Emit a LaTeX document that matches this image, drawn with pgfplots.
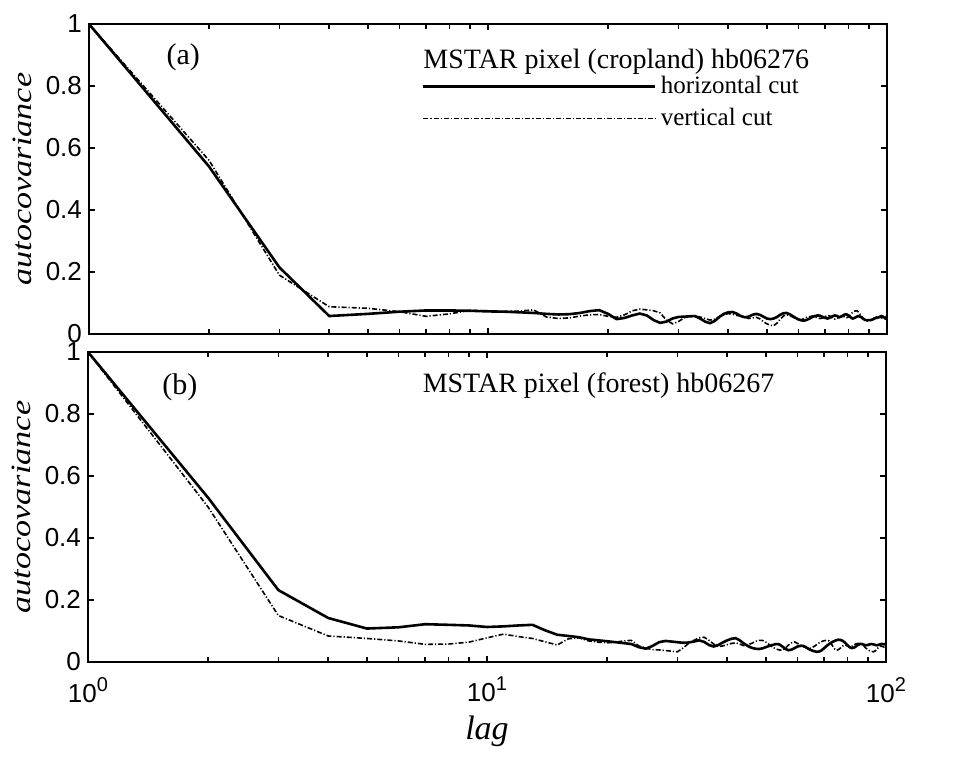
\documentclass[border=0pt]{standalone}
\usepackage{fontspec}
\setmainfont{Liberation Serif}
\setsansfont{Liberation Sans}
\newfontfamily\ylabfont[FakeStretch=1.22]{Liberation Serif}
\usepackage{pgfplots}
\usepackage{pgfplotstable}
\pgfplotsset{compat=1.18}

% autocovariance vs lag, h = horizontal cut, v = vertical cut
\pgfplotstableread{
lag h v
1 1.000 1.000
2 0.540 0.560
3 0.215 0.190
4 0.058 0.088
5 0.065 0.083
6 0.072 0.072
7 0.076 0.057
8 0.076 0.065
9 0.075 0.076
10 0.073 0.075
11 0.072 0.073
12 0.070 0.074
13 0.068 0.078
14 0.065 0.055
15 0.063 0.050
16 0.064 0.052
17 0.068 0.058
18 0.074 0.062
19 0.077 0.063
20 0.065 0.057
21 0.048 0.054
22 0.052 0.062
23 0.060 0.075
24 0.066 0.080
25 0.060 0.078
26 0.045 0.075
27 0.036 0.068
28 0.040 0.045
29 0.050 0.033
30 0.055 0.040
31 0.056 0.052
32 0.057 0.058
33 0.058 0.057
34 0.050 0.055
35 0.040 0.050
36 0.035 0.045
37 0.042 0.048
38 0.055 0.056
39 0.065 0.062
40 0.070 0.066
41 0.071 0.064
42 0.066 0.060
43 0.058 0.058
44 0.054 0.055
45 0.056 0.050
46 0.062 0.052
47 0.065 0.054
48 0.062 0.049
49 0.056 0.040
50 0.050 0.033
51 0.048 0.028
52 0.050 0.027
53 0.055 0.035
54 0.062 0.048
55 0.067 0.058
56 0.068 0.062
57 0.064 0.060
58 0.058 0.055
59 0.052 0.050
60 0.047 0.047
61 0.044 0.046
62 0.043 0.050
63 0.046 0.054
64 0.050 0.056
65 0.055 0.058
66 0.058 0.056
67 0.060 0.052
68 0.059 0.050
69 0.055 0.052
70 0.052 0.056
71 0.050 0.060
72 0.053 0.058
73 0.057 0.052
74 0.060 0.048
75 0.058 0.050
76 0.054 0.055
77 0.057 0.058
78 0.062 0.056
79 0.064 0.052
80 0.060 0.055
81 0.054 0.062
82 0.050 0.070
83 0.052 0.074
84 0.056 0.075
85 0.058 0.070
86 0.055 0.060
87 0.050 0.052
88 0.046 0.046
89 0.044 0.043
90 0.045 0.042
91 0.045 0.044
92 0.047 0.048
93 0.050 0.052
94 0.052 0.055
95 0.053 0.056
96 0.056 0.054
97 0.058 0.052
98 0.055 0.055
99 0.050 0.058
100 0.048 0.055
}\cropland

\pgfplotstableread{
lag h v
1 1.000 1.000
2 0.530 0.500
3 0.232 0.150
4 0.142 0.084
5 0.108 0.076
6 0.112 0.068
7 0.122 0.057
8 0.120 0.058
9 0.118 0.064
10 0.113 0.078
11 0.115 0.090
12 0.118 0.082
13 0.120 0.076
14 0.102 0.065
15 0.088 0.055
16 0.084 0.075
17 0.080 0.078
18 0.073 0.068
19 0.070 0.064
20 0.067 0.062
21 0.064 0.064
22 0.061 0.068
23 0.058 0.070
24 0.048 0.052
25 0.043 0.045
26 0.052 0.040
27 0.064 0.039
28 0.068 0.037
29 0.066 0.035
30 0.064 0.033
31 0.062 0.045
32 0.063 0.060
33 0.066 0.070
34 0.070 0.078
35 0.065 0.080
36 0.055 0.070
37 0.050 0.058
38 0.055 0.050
39 0.063 0.052
40 0.070 0.056
41 0.075 0.060
42 0.077 0.062
43 0.070 0.058
44 0.060 0.053
45 0.052 0.055
46 0.046 0.060
47 0.043 0.066
48 0.042 0.070
49 0.044 0.070
50 0.048 0.064
51 0.052 0.056
52 0.055 0.048
53 0.058 0.042
54 0.057 0.039
55 0.050 0.038
56 0.042 0.045
57 0.038 0.055
58 0.040 0.062
59 0.045 0.065
60 0.050 0.060
61 0.052 0.055
62 0.052 0.050
63 0.048 0.046
64 0.042 0.044
65 0.038 0.045
66 0.035 0.050
67 0.033 0.056
68 0.034 0.062
69 0.038 0.066
70 0.045 0.069
71 0.052 0.070
72 0.058 0.068
73 0.063 0.058
74 0.067 0.045
75 0.070 0.038
76 0.072 0.040
77 0.071 0.046
78 0.068 0.052
79 0.062 0.055
80 0.055 0.052
81 0.048 0.048
82 0.045 0.050
83 0.046 0.055
84 0.050 0.058
85 0.055 0.060
86 0.058 0.060
87 0.058 0.058
88 0.056 0.052
89 0.054 0.045
90 0.055 0.040
91 0.057 0.036
92 0.058 0.034
93 0.057 0.033
94 0.055 0.036
95 0.054 0.042
96 0.056 0.048
97 0.058 0.052
98 0.058 0.050
99 0.057 0.048
100 0.058 0.050
}\forest

\tikzset{
  hcut/.style={black, line width=1.3pt},
  vcut/.style={black, line width=0.8pt, dash pattern=on 2.5pt off 1pt on 0.6pt off 1pt},
}

\begin{document}
\begin{tikzpicture}
\path[use as bounding box] (0pt,0pt) rectangle (478pt,-378.5pt);

\begin{axis}[
  xmode=log, scale only axis,
  width=399pt, height=155pt,
  xmin=1, xmax=100, ymin=0, ymax=1,
  xtick={1,10,100},
  minor xtick={2,3,4,5,6,7,8,9,20,30,40,50,60,70,80,90},
  ytick={0,0.2,0.4,0.6,0.8,1},
  yticklabels={0,0.2,0.4,0.6,0.8,1},
  tick label style={font=\sffamily\fontsize{13}{15}\selectfont},
  axis line style={line width=1pt},
  tick style={black, line width=0.8pt},
  major tick length=3pt, minor tick length=2.5pt,
  ylabel={\ylabfont\itshape\fontsize{14}{16}\selectfont autocovariance},
  at={(44.5pt,-167pt)}, anchor=south west,
  xticklabels={},
  legend style={at={(0.417,0.747)}, anchor=west, draw=none, fill=none,
    font=\fontsize{12.5}{14}\selectfont, row sep=2pt, inner sep=0pt,
    cells={anchor=west}},
  legend image code/.code={\draw[#1] (0pt,0pt) -- (116pt,0pt);},
]
\addplot[hcut] table[x=lag, y=h] {\cropland};
\addlegendentry{horizontal cut}
\addplot[vcut] table[x=lag, y=v] {\cropland};
\addlegendentry{vertical cut}
\node[font=\fontsize{15}{17}\selectfont] at (rel axis cs:0.118,0.894) {(a)};
\node[anchor=base west, inner sep=0pt, font=\fontsize{14}{16}\selectfont]
  at (rel axis cs:0.4185,0.858) {MSTAR pixel (cropland) hb06276};
\end{axis}

\begin{axis}[
  xmode=log, scale only axis,
  width=399pt, height=155pt,
  xmin=1, xmax=100, ymin=0, ymax=1,
  xtick={1,10,100},
  minor xtick={2,3,4,5,6,7,8,9,20,30,40,50,60,70,80,90},
  ytick={0,0.2,0.4,0.6,0.8,1},
  yticklabels={0,0.2,0.4,0.6,0.8,1},
  tick label style={font=\sffamily\fontsize{13}{15}\selectfont},
  axis line style={line width=1pt},
  tick style={black, line width=0.8pt},
  major tick length=3pt, minor tick length=2.5pt,
  ylabel={\ylabfont\itshape\fontsize{14}{16}\selectfont autocovariance},
  at={(44pt,-331pt)}, anchor=south west,
  xticklabels={10\raisebox{0.8ex}{\fontsize{10}{12}\selectfont 0},
               10\raisebox{0.8ex}{\fontsize{10}{12}\selectfont 1},
               10\raisebox{0.8ex}{\fontsize{10}{12}\selectfont 2}},
  xticklabel style={yshift=-4pt},
  xlabel={\itshape\fontsize{17}{19}\selectfont lag},
]
\addplot[hcut] table[x=lag, y=h] {\forest};
\addplot[vcut] table[x=lag, y=v] {\forest};
\node[font=\fontsize{15}{17}\selectfont] at (rel axis cs:0.115,0.887) {(b)};
\node[anchor=base west, inner sep=0pt, font=\fontsize{14}{16}\selectfont]
  at (rel axis cs:0.419,0.871) {MSTAR pixel (forest) hb06267};
\end{axis}
\end{tikzpicture}
\end{document}
